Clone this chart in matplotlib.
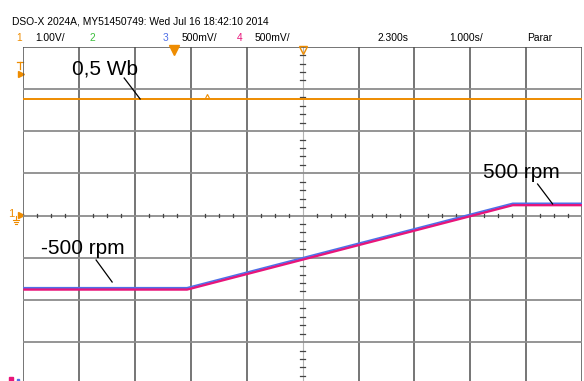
import matplotlib
matplotlib.use("Agg")
from matplotlib import pyplot as plt

# scope settings
timebase = 1.000      # s/div
time_delay = 2.300    # s at screen centre
ch1_scale = 1.00      # V/div
ch3_scale = 0.500     # V/div
ch4_scale = 0.500     # V/div

# channel 1: flux estimate (constant)
flux_t = [-2.7, 7.3]
flux_v = [2.75, 2.75]

# channels 3 / 4: speed reference and measured speed
speed_t = [-2.7, 0.23, 6.06, 7.3]
speed_ref_v = [-0.855, -0.855, 0.145, 0.145]
speed_meas_v = [-0.86, -0.86, 0.14, 0.14]

header = "DSO-X 2024A, MY51450749: Wed Jul 16 18:42:10 2014"
orange = "#ee8c00"
blue = "#4f6fe8"
pink = "#e8157a"
green = "#3cbf3c"

W, H = 584, 381
fig = plt.figure(figsize=(W / 100, H / 100), dpi=100)
fig.patch.set_facecolor("white")

# overlay in screen pixels for the little scope symbols
ov = fig.add_axes([0, 0, 1, 1])
ov.set_xlim(0, W)
ov.set_ylim(H, 0)
ov.axis("off")

# graticule area in pixels
gx0, gx1 = 23.3, 582.0
gy0, gy1 = 46.7, 384.3
ax = fig.add_axes([gx0 / W, 1 - gy1 / H, (gx1 - gx0) / W, (gy1 - gy0) / H])
t_left = time_delay - 5 * timebase
t_right = time_delay + 5 * timebase
ax.set_xlim(t_left, t_right)
ax.set_ylim(-4, 4)
ax.set_xticks([])
ax.set_yticks([])
ax.patch.set_alpha(0)
for s in ax.spines.values():
    s.set_visible(False)

# grid
for i in range(11):
    t = t_left + i * timebase
    if i == 5:
        ax.axvline(t, color="#b4b4b4", lw=0.8, zorder=1)
    else:
        ax.axvline(t, color="#505050", lw=1.1, zorder=1)
for j in range(-4, 5):
    if j == 4:
        ax.axhline(j, color="#505050", lw=1.1, zorder=1)
    else:
        ax.axhline(j, color="#8c8c8c", lw=1.3, zorder=1)

# minor ticks on the centre axes
for k in range(40):
    t = t_left + k * timebase / 4
    if k % 4:
        ax.plot([t, t], [-0.045, 0.045], color="#444444", lw=0.9, zorder=2)
for k in range(-20, 21):
    if k % 5:
        y = k / 5
        ax.plot([time_delay - 0.04, time_delay + 0.04], [y, y],
                color="#444444", lw=0.9, zorder=2)

# traces
ax.plot(flux_t, [v / ch1_scale for v in flux_v], color=orange, lw=1.4, zorder=4)
ax.plot(speed_t, [v / ch4_scale - 0.03 for v in speed_meas_v], color=pink,
        lw=2.0, zorder=4, solid_capstyle="butt")
ax.plot(speed_t, [v / ch3_scale for v in speed_ref_v], color=blue,
        lw=1.1, zorder=5)

# labels with leader lines
afont = dict(family="Liberation Sans", size=15, color="black")
ax.text(-1.827, 3.346, "0,5 Wb", va="baseline", ha="left", zorder=6, **afont)
ax.text(-2.383, -0.912, "-500 rpm", va="baseline", ha="left", zorder=6, **afont)
ax.text(5.52, 0.896, "500 rpm", va="baseline", ha="left", zorder=6, **afont)
for (x0, y0), (x1, y1) in [((-0.895, 3.258), (-0.609, 2.761)),
                           ((-1.397, -1.055), (-1.110, -1.576)),
                           ((6.505, 0.746), (6.774, 0.273))]:
    ax.plot([x0, x1], [y0, y1], color="black", lw=0.9, zorder=6)

# trigger and delay markers on top edge
ax.plot([0], [3.93], marker="v", color=orange, ms=7, clip_on=False, zorder=7)
ax.plot([time_delay], [3.93], marker="v", markerfacecolor="none",
        markeredgecolor=orange, ms=6, clip_on=False, zorder=7)
ov.plot([207], [96], marker="^", markerfacecolor="none", markeredgecolor=orange,
        ms=3, mew=0.8)

# trigger level marker
ov.plot([17, 23], [62, 62], color=orange, lw=0.9)
ov.plot([20, 20], [62, 68.5], color=orange, lw=0.9)
ov.plot([20.5], [74], marker=">", color=orange, ms=4)

# channel 1 ground marker
fig.text(14 / W, 1 - 214 / H, "1", color=orange, fontsize=8, ha="right",
         va="center", family="Liberation Sans")
ov.plot([20.5], [214.5], marker=">", color=orange, ms=4.5)
ov.plot([15.5, 15.5], [216, 220], color=orange, lw=0.8)
ov.plot([12.5, 18.5], [220, 220], color=orange, lw=0.8)
ov.plot([13.5, 17.5], [222, 222], color=orange, lw=0.8)
ov.plot([14.5, 16.5], [224, 224], color=orange, lw=0.8)

# small status icons, bottom left
ov.plot([11], [378.5], marker="s", color=pink, ms=2.5)
ov.plot([18], [379.5], marker="s", color=blue, ms=2)

# header
hfont = dict(family="Liberation Sans", size=7.4, va="baseline")
fig.text(11.7 / W, 1 - 25 / H, header, color="black", ha="left", **hfont)
row = [(16, "1", orange), (35, "1.00V/", "black"), (89, "2", green),
       (163, "3", blue), (182, "500mV/", "black"), (237, "4", pink),
       (255, "500mV/", "black"), (378, "2.300s", "black"),
       (449, "1.000s/", "black"), (527, "Parar", "black")]
for x, s, c in row:
    fig.text(x / W, 1 - 40.7 / H, s, color=c, ha="left", **hfont)

fig.savefig("out.png", dpi=100)
